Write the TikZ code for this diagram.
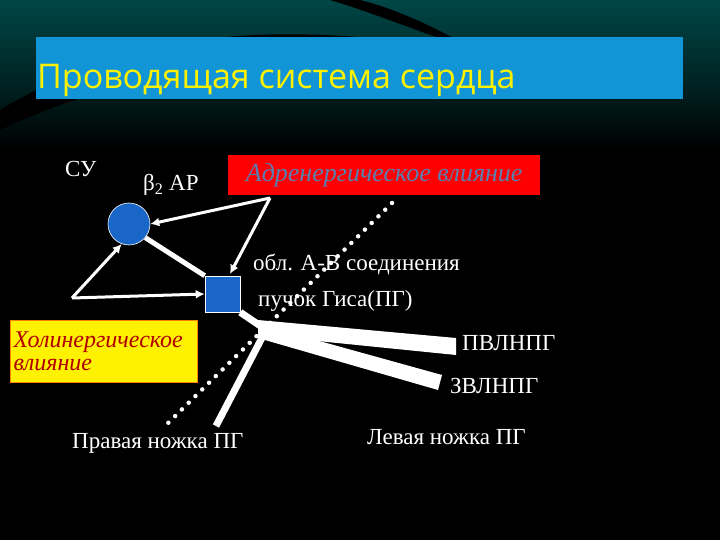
\documentclass[tikz,border=0pt]{standalone}
\usepackage{fontspec}
\setmainfont{Liberation Serif}
\newfontfamily\titlefont{Open Sans}
\definecolor{tband}{HTML}{1195D6}
\definecolor{sblue}{HTML}{1A66C8}
\definecolor{adrtxt}{HTML}{5A7FB0}
\begin{document}
\begin{tikzpicture}[x=1pt,y=-1pt,
  txt/.style={text=white,font=\fontsize{23}{25}\selectfont,inner sep=0,anchor=base west},
  wl/.style={draw=white,line width=3pt},
  arr/.style={wl,-{Latex[length=9pt,width=9pt]}},
  blue/.style={fill=sblue,draw=white,line width=0.6pt},
  dots/.style={white,line width=4.5pt,line cap=round,dash pattern=on 0pt off 9.5pt}]
\usetikzlibrary{arrows.meta}
\useasboundingbox (0,0) rectangle (720,540);
\fill[black] (0,0) rectangle (720,540);
\shade[top color=teal!55!black,bottom color=black,middle color=teal!30!black] (0,0) rectangle (720,150);
\fill[black] (0,110) .. controls (150,20) and (300,25) .. (470,50) .. controls (320,45) and (150,60) .. (0,130) -- cycle;
\fill[black] (330,0) .. controls (380,15) and (440,40) .. (475,50) .. controls (440,30) and (400,10) .. (360,0) -- cycle;
\fill[tband] (36,37) rectangle (683,99);
\node[anchor=base west,inner sep=0,text=yellow,font=\titlefont\fontsize{34}{36}\selectfont] (title) at (37,89) {Проводящая система сердца};
% boxes
\node[fill=red,minimum width=312pt,minimum height=40pt,inner sep=0,anchor=north west,
  font=\itshape\fontsize{26}{28}\selectfont,text=adrtxt] (adr) at (228,155) {Адренергическое влияние};
\node[fill=yellow,draw=orange,line width=1pt,minimum width=187pt,minimum height=62pt,inner sep=3pt,anchor=north west,
  font=\itshape\fontsize{24}{25}\selectfont,text=red!70!black,align=left,text width=181pt] (hol) at (10,320) {Холинергическое\\[-2pt]влияние};
\node[blue,circle,minimum size=42pt,inner sep=0] (su) at (129,224) {};
\node[blue,minimum width=35pt,minimum height=36pt,inner sep=0] (av) at (222.5,294) {};
\coordinate (ap) at (270,198);
\coordinate (lc) at (72,298);
\draw[arr] (ap) -- (su.east);
\draw[arr] (ap) -- (230,274);
\draw[wl,line width=5pt] (su.-40) -- (av.north west);
\draw[arr] (lc) -- (su.-110);
\draw[arr] (lc) -- (av.west);
% dotted line
\coordinate (d1) at (392,203); \coordinate (d2) at (163,428);
\draw[dots] (d1) -- (d2);
% bundles
\coordinate (j) at (262,327);
\draw[white,line width=7pt] (av.south east) -- (j);
\fill[white] (258,320) -- (456,338) -- (456,355) -- (258,335) -- cycle;
\fill[white] (258,324) -- (442,375) -- (438,390) -- (258,338) -- cycle;
\draw[white,line width=7pt] (265,332) -- (216,426);
% texts
\node[txt] (cy) at (65,177) {СУ};
\node[txt] (b2) at (143,191) {β\textsubscript{2} АР};
\node[txt] (obl) at (253,270) {обл. А-В соединения};
\node[txt] (pg) at (258,306) {пучок Гиса(ПГ)};
\node[txt] (pv) at (462,350) {ПВЛНПГ};
\node[txt] (zv) at (450,393) {ЗВЛНПГ};
\node[txt] (lev) at (367,444) {Левая ножка ПГ};
\node[txt] (prav) at (72,448) {Правая ножка ПГ};
\end{tikzpicture}
\end{document}
